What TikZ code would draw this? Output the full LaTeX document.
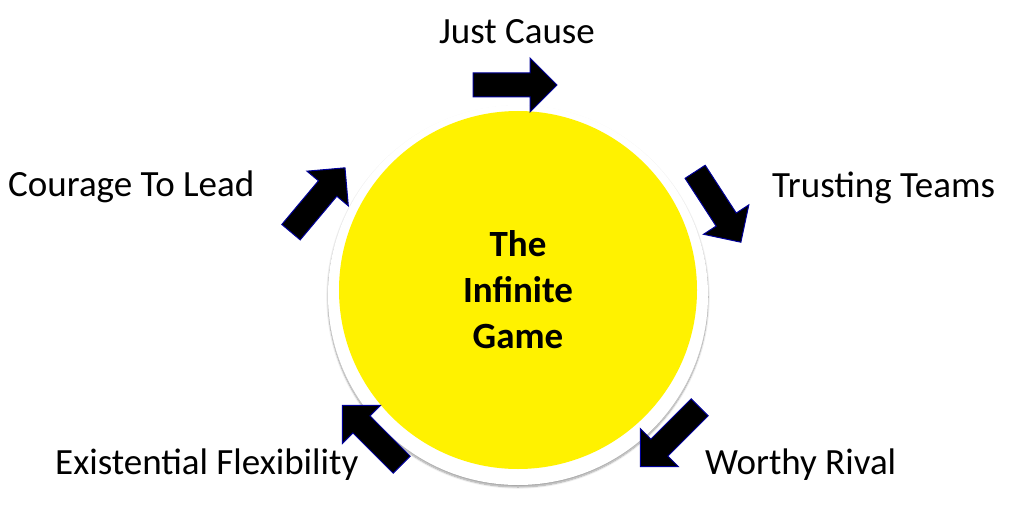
\documentclass[tikz,border=0pt]{standalone}
\usepackage{fontspec}
\setmainfont{Carlito}
\usetikzlibrary{shadows.blur}
\begin{document}
\begin{tikzpicture}[x=1pt,y=-1pt,
  blk/.pic={\filldraw[fill=black, draw=blue!60!black, line width=1pt]
    (-42,-12) -- (15,-12) -- (15,-27) -- (42,0) -- (15,27) -- (15,12) -- (-42,12) -- cycle;},
  lab/.style={font=\fontsize{37}{40}\selectfont, inner sep=0pt}]
\useasboundingbox (0,0) rectangle (1020,532);
\fill[white, blur shadow={shadow blur steps=10, shadow xshift=0pt, shadow yshift=-2pt, shadow opacity=40}] (518,295) circle (190);
\node[circle, fill=yellow, minimum size=358pt, inner sep=0pt, align=center,
  font=\fontsize{37}{46}\selectfont\bfseries] (c) at (518,290) {The\\Infinite\\Game};
\pic[rotate=0] (a1) at (515,85) {blk};
\pic[rotate=-57] (a2) at (718,207) {blk};
\pic[rotate=-135] (a3) at (670,437) {blk};
\pic[rotate=135] (a4) at (372,435) {blk};
\pic[rotate=50] (a5) at (318,200) {blk};
\node[lab] (t1) at (517,32) {Just Cause};
\node[lab, anchor=west] (t2) at (772,188) {Trusting Teams};
\node[lab, anchor=west] (t3) at (705,465) {Worthy Rival};
\node[lab, anchor=west] (t4) at (55,465) {Existential Flexibility};
\node[lab, anchor=west] (t5) at (8,187) {Courage To Lead};
\end{tikzpicture}
\end{document}
